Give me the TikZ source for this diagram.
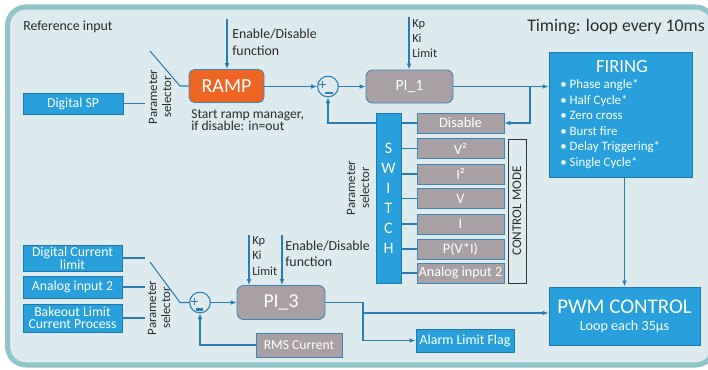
\documentclass[tikz,border=0pt]{standalone}
\usepackage{fontspec}
\setmainfont{Carlito}
\usetikzlibrary{arrows.meta}
\definecolor{bgc}{HTML}{DDEBEE}
\definecolor{bdc}{HTML}{8FC4C8}
\definecolor{blue1}{HTML}{27A0DB}
\definecolor{bblue}{HTML}{1F78B0}
\definecolor{gray1}{HTML}{A9A0A6}
\definecolor{gbd}{HTML}{3E86B8}
\definecolor{orng}{HTML}{EF6523}
\definecolor{lc}{HTML}{2A7DB3}
\definecolor{txt}{HTML}{2B2B2B}
\tikzset{
  lbl/.style={inner sep=0pt, text=txt, font=\fontsize{10.4}{12.5}\selectfont},
  bbox/.style={draw=bblue, line width=0.7pt, fill=blue1, text=white, inner sep=0pt, align=center, font=\fontsize{10.3}{10}\selectfont},
  gbox/.style={draw=gbd, line width=0.7pt, fill=gray1, text=white, inner sep=0pt, align=center, font=\fontsize{10.8}{11}\selectfont},
  mbox/.style={gbox, minimum width=65.25pt, minimum height=15pt},
  obox/.style={draw=gbd, line width=0.6pt, fill=orng, text=white, inner sep=0pt, rounded corners=4pt, font=\fontsize{15}{15}\selectfont},
  sumc/.style={circle, draw=lc, line width=0.8pt, minimum size=15.5pt, inner sep=0pt},
  ln/.style={draw=lc, line width=0.8pt},
  arr/.style={ln, -{Latex[length=4.5pt,width=3.6pt]}},
  pm/.style={draw=lc, line width=0.7pt},
  mn/.style={draw=lc, line width=1.6pt},
}
\begin{document}
\begin{tikzpicture}[x=0.75pt,y=-0.75pt]
\useasboundingbox (0,0) rectangle (708,369);
\draw[draw=bdc, fill=bgc, line width=3.8pt, rounded corners=14pt] (7.5,7) rectangle (714,365);

% ---------- top section ----------
\node[lbl, anchor=west] (refin) at (23,27) {Reference input};
\node[lbl, anchor=west, font=\fontsize{13.3}{14}\selectfont] (timing) at (527,27) {Timing: loop every 10ms};

\node[obox, minimum width=56.25pt, minimum height=24.75pt] (ramp) at (226.5,86) {RAMP};
\node[bbox, minimum width=75pt, minimum height=15.75pt] (dsp) at (73,103.5) {Digital SP};
\node[sumc] (s1) at (328,86.5) {};
\node[gbox, rounded corners=5pt, minimum width=65.25pt, minimum height=24.75pt, font=\fontsize{11.8}{12}\selectfont] (pi1) at (409.5,86.5) {PI\_1};
\node[bbox, minimum width=107.25pt, minimum height=93.75pt] (fir) at (620.5,114.5) {};
\node[lbl, text=white, font=\fontsize{14}{14}\selectfont] (firT) at (622,67) {FIRING};
\node[lbl, text=white, anchor=north west, align=left, font=\fontsize{9.7}{11.7}\selectfont] (firL) at (560,79)
  {• Phase angle*\\• Half Cycle*\\• Zero cross\\• Burst fire\\• Delay Triggering*\\• Single Cycle*};

\node[bbox, minimum width=18.75pt, minimum height=127.5pt, font=\fontsize{12}{15}\selectfont] (sw) at (388.5,198) {S\\W\\I\\T\\C\\H};
\node[mbox] (mdis) at (460.5,123) {Disable};
\node[mbox] (mv2) at (460.5,148.5) {V²};
\node[mbox] (mi2) at (460.5,174) {I²};
\node[mbox] (mv) at (460.5,198.5) {V};
\node[mbox] (mi) at (460.5,224) {I};
\node[mbox] (mp) at (460.5,249) {P(V*I)};
\node[mbox, font=\fontsize{10.6}{11}\selectfont] (ma) at (460.5,273) {Analog input 2};
\node[lbl, draw=black!80, line width=0.7pt, rotate=90, minimum width=108pt, minimum height=13.5pt, font=\fontsize{9.9}{10}\selectfont] (cm) at (517,211) {CONTROL MODE};

\node[bbox, minimum width=113.25pt, minimum height=43.5pt] (pwm) at (624.5,316) {};
\node[lbl, text=white, font=\fontsize{15.7}{16}\selectfont] (pwmT) at (624.5,307) {PWM CONTROL};
\node[lbl, text=white, font=\fontsize{10.6}{11}\selectfont] (pwmL) at (624.5,327) {Loop each 35µs};

\node[lbl, anchor=north west, align=left] (en1t) at (232,29) {Enable/Disable\\function};
\node[lbl, anchor=north west, align=left, font=\fontsize{9.3}{11.5}\selectfont] (kp1t) at (412,19) {Kp\\Ki\\Limit};
\node[lbl, anchor=north west, align=left, font=\fontsize{10.2}{9.5}\selectfont] (srm) at (191,109) {Start ramp manager,\\if disable: in=out};
\node[lbl, rotate=90, align=center, font=\fontsize{9.6}{10.5}\selectfont] (ps1) at (160,97) {Parameter\\selector};
\node[lbl, rotate=90, align=center, font=\fontsize{9.6}{10.5}\selectfont] (ps2) at (358,188) {Parameter\\selector};

% plus / minus in s1
\draw[pm] ([shift={(-9.5,-2.5)}]s1.center) -- ([shift={(-2.5,-2.5)}]s1.center)
          ([shift={(-6,-6)}]s1.center) -- ([shift={(-6,1)}]s1.center);
\draw[mn] ([shift={(-3,6.5)}]s1.center) -- ([shift={(5,6.5)}]s1.center);

% connectors top
\coordinate (en1) at (227,19);
\draw[arr] (en1) -- (en1 |- ramp.north);
\coordinate (kp1) at (409,17);
\draw[arr] (kp1) -- (kp1 |- pi1.north);
\draw[arr] (ramp.east |- s1) -- (s1.west);
\draw[arr] (s1.east) -- (pi1.west);
\draw[arr] (pi1.east) -- (pi1.east -| fir.west);
\coordinate (b1) at (530,86.5);
\draw[arr] (b1) |- (mdis.east);
\draw[arr] (sw.west |- mdis) -| (s1.south);
\foreach \m in {mdis,mv2,mi2,mv,mi,mp,ma} \draw[ln] (sw.east |- \m) -- (\m.west);
\draw[arr] (fir.south -| pwm.north) -- (pwm.north);
\coordinate (p1) at (145,103.5);
\draw[ln] (dsp.east) -- (p1);
\coordinate (sa) at (150,51);
\coordinate (sb) at (180,86);
\draw[ln] (sa) -- (sb) -- (sb -| ramp.west);

% ---------- bottom section ----------
\node[bbox, minimum width=74.25pt, minimum height=19.5pt, font=\fontsize{10.3}{8}\selectfont] (dcl) at (72.5,258) {Digital Current\\limit};
\node[bbox, minimum width=74.25pt, minimum height=16.5pt] (ai2) at (72.5,287) {Analog input 2};
\node[bbox, minimum width=74.25pt, minimum height=21pt, font=\fontsize{10.3}{9}\selectfont] (bk) at (72.5,318) {Bakeout Limit\\Current Process};
\node[lbl, rotate=90, align=center, font=\fontsize{9.6}{10.5}\selectfont] (ps3) at (159,308) {Parameter\\selector};
\node[sumc] (s2) at (200,302.5) {};
\node[gbox, rounded corners=5pt, minimum width=66pt, minimum height=25.5pt, font=\fontsize{14.8}{15}\selectfont] (pi3) at (281,302.5) {PI\_3};
\node[gbox, minimum width=64.5pt, minimum height=18pt, font=\fontsize{10.2}{11}\selectfont] (rms) at (299,345) {RMS Current};
\node[bbox, minimum width=73.5pt, minimum height=17.25pt, font=\fontsize{10.4}{11}\selectfont] (alf) at (465,340.5) {Alarm Limit Flag};
\node[lbl, anchor=north west, align=left, font=\fontsize{9.3}{11.6}\selectfont] (kp3t) at (252,236) {Kp\\Ki\\Limit};
\node[lbl, anchor=north west, align=left, font=\fontsize{10.4}{12}\selectfont] (en3t) at (285,241) {Enable/Disable\\function};

\draw[pm] ([shift={(-9,-1.5)}]s2.center) -- ([shift={(-2,-1.5)}]s2.center)
          ([shift={(-5.5,-5)}]s2.center) -- ([shift={(-5.5,2)}]s2.center);
\draw[mn] ([shift={(-4,7)}]s2.center) -- ([shift={(3,7)}]s2.center);

\coordinate (p2) at (145,258);
\coordinate (p3) at (145,287);
\coordinate (p4) at (145,318);
\draw[ln] (dcl.east) -- (p2);
\draw[ln] (ai2.east) -- (p3);
\draw[ln] (bk.east) -- (p4);
\coordinate (sc) at (150,262);
\coordinate (sd) at (180,302.5);
\draw[ln] (sc) -- (sd) -- (s2.west);
\draw[arr] (s2.east) -- (pi3.west);
\coordinate (kp3) at (249,235);
\draw[arr] (kp3) -- (kp3 |- pi3.north);
\coordinate (en3) at (282,235);
\draw[arr] (en3) -- (en3 |- pi3.north);
\draw[arr] (rms.west) -| (s2.south);
\coordinate (b3) at (363,302.5);
\draw[arr] (pi3.east) -- (b3) |- (alf.west);
\coordinate (b4) at (363,313);
\draw[arr] (b4) -- (b4 -| pwm.west);
\end{tikzpicture}
\end{document}
